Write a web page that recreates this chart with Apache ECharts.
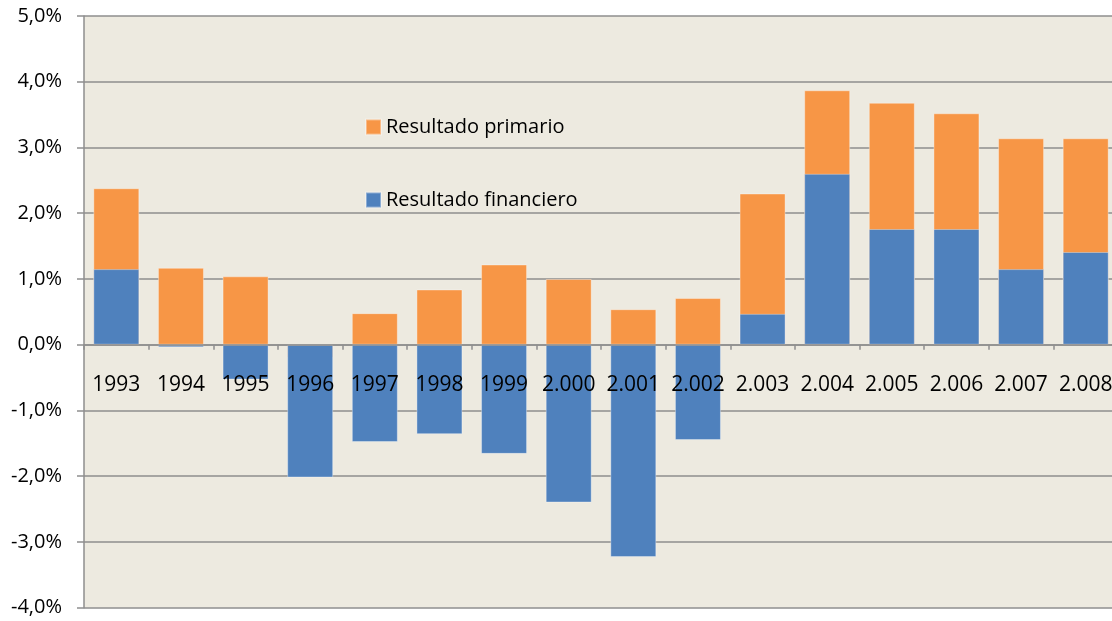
<!DOCTYPE html>
<html>
<head>
<meta charset="utf-8">
<script src="https://cdn.jsdelivr.net/npm/echarts@6/dist/echarts.min.js"></script>
<style>
  html, body { margin: 0; padding: 0; background: #fff; }
  #main { width: 1112px; height: 621px; }
</style>
</head>
<body>
<div id="main"></div>
<script>
// años
var years = ['1993', '1994', '1995', '1996', '1997', '1998', '1999', '2.000',
  '2.001', '2.002', '2.003', '2.004', '2.005', '2.006', '2.007', '2.008'];
// % del PIB
var primario = [2.38, 1.17, 1.04, -0.2, 0.48, 0.84, 1.22, 1.00,
  0.54, 0.71, 2.30, 3.87, 3.68, 3.52, 3.14, 3.14];
var financiero = [1.15, -0.04, -0.53, -2.02, -1.48, -1.36, -1.66, -2.40,
  -3.23, -1.45, 0.47, 2.60, 1.76, 1.76, 1.15, 1.41];
var yMin = -4, yMax = 5, yStep = 1;

var font = '"Open Sans", "Noto Sans", sans-serif';
var gridColor = '#8e8e8e';
var plotTop = 16, plotHeight = 591.7;
// el eje de categorías va sobre el 0
var zeroOffset = -plotHeight * (0 - yMin) / (yMax - yMin);

var chart = echarts.init(document.getElementById('main'));

var option = {
  backgroundColor: '#ffffff',
  animation: false,
  grid: {
    left: 84,
    top: plotTop,
    width: 1034,
    height: plotHeight,
    outerBoundsMode: 'none',
    containLabel: false,
    show: true,
    backgroundColor: '#edeae0',
    borderWidth: 0
  },
  legend: [
    {
      data: ['Resultado primario'],
      left: 365, top: 117, padding: 0,
      icon: 'rect', itemWidth: 15, itemHeight: 15, itemGap: 6,
      textStyle: { fontFamily: font, fontSize: 20, lineHeight: 20, color: '#000' }
    },
    {
      data: ['Resultado financiero'],
      left: 365, top: 190, padding: 0,
      icon: 'rect', itemWidth: 15, itemHeight: 15, itemGap: 6,
      textStyle: { fontFamily: font, fontSize: 20, lineHeight: 20, color: '#000' }
    }
  ],
  xAxis: {
    type: 'category',
    data: years,
    position: 'bottom',
    offset: zeroOffset,
    z: 5,
    axisLine: { onZero: false, lineStyle: { color: gridColor, width: 1.5 } },
    axisTick: { show: true, length: 5, inside: false, lineStyle: { color: gridColor, width: 1.5 } },
    axisLabel: {
      margin: 30, interval: 0, hideOverlap: false,
      fontFamily: font, fontSize: 21, lineHeight: 21, color: '#000'
    },
    splitLine: { show: false }
  },
  yAxis: {
    type: 'value',
    min: yMin, max: yMax, interval: yStep,
    axisLine: { show: true, onZero: false, lineStyle: { color: gridColor, width: 1.5 } },
    axisTick: { show: true, length: 7, lineStyle: { color: gridColor, width: 1.5 } },
    axisLabel: {
      margin: 22,
      fontFamily: font, fontSize: 20, color: '#000',
      formatter: function (v) { return v.toFixed(1).replace('.', ',') + '%'; }
    },
    splitLine: { show: true, lineStyle: { color: gridColor, width: 1.5 } }
  },
  series: [
    {
      name: 'Resultado primario',
      type: 'bar',
      data: primario,
      barWidth: 46,
      barGap: '-100%',
      itemStyle: { color: '#f79646', borderColor: 'rgba(255,255,255,0.35)', borderWidth: 1 }
    },
    {
      name: 'Resultado financiero',
      type: 'bar',
      data: financiero,
      barWidth: 46,
      barGap: '-100%',
      itemStyle: { color: '#4f81bd', borderColor: 'rgba(255,255,255,0.35)', borderWidth: 1 }
    }
  ]
};

chart.setOption(option);
</script>
</body>
</html>
